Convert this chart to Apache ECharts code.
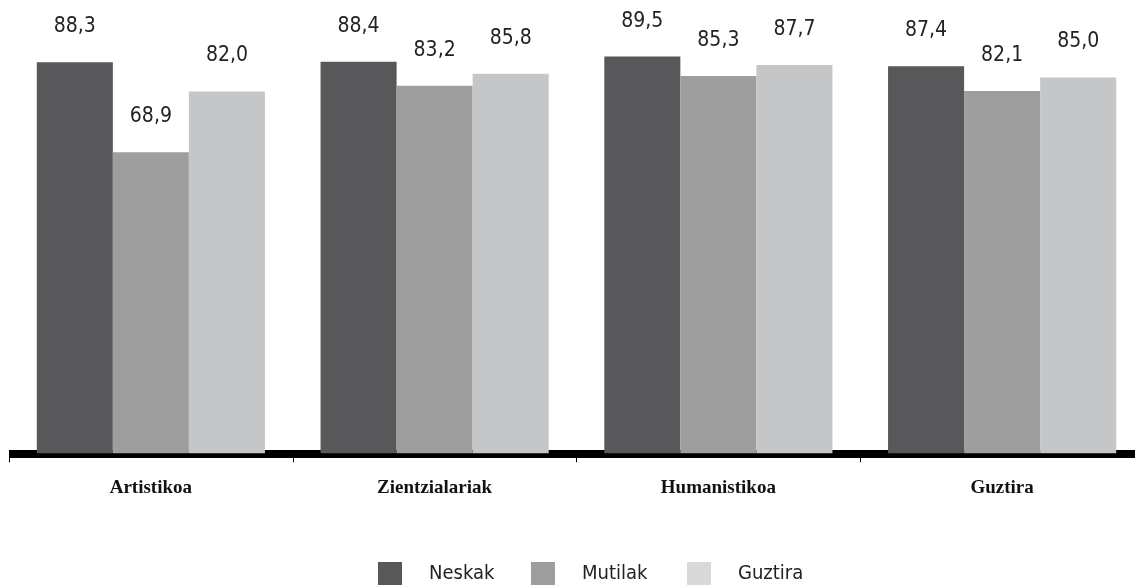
<!DOCTYPE html>
<html>
<head>
<meta charset="utf-8">
<script src="https://cdn.jsdelivr.net/npm/echarts@6/dist/echarts.min.js"></script>
<style>
  html, body { margin: 0; padding: 0; background: #fff; }
  #main { width: 1135px; height: 585px; }
</style>
</head>
<body>
<div id="main"></div>
<script>
var categories = ['Artistikoa', 'Zientzialariak', 'Humanistikoa', 'Guztira']
var neskak = [88.3, 88.4, 89.5, 87.4]
var mutilak = [68.9, 83.2, 85.3, 82.1]
var guztira = [82.0, 85.8, 87.7, 85.0]

var narrow = "'Liberation Sans Narrow', 'DejaVu Sans Condensed', sans-serif"

var myChart = echarts.init(document.getElementById('main'))

function labelOf() {
    return {
        show: true,
        position: 'top',
        distance: 25,
        fontFamily: narrow,
        fontSize: 21,
        color: '#222',
        formatter: function (p) { return p.value.toFixed(1).replace('.', ',') }
    }
}

function legendAt(name, left, color) {
    return {
        data: [{ name: name, itemStyle: { color: color } }],
        left: left,
        top: 562,
        padding: 0,
        itemWidth: 24,
        itemHeight: 24,
        icon: 'rect',
        selectedMode: false,
        textStyle: {
            fontFamily: narrow,
            fontSize: 20,
            color: '#222',
            padding: [0, 0, 0, 22]
        }
    }
}

myChart.setOption({
    animation: false,
    legend: [
        legendAt('Neskak', 378, '#58585a'),
        legendAt('Mutilak', 531, '#9e9e9f'),
        legendAt('Guztira', 687, '#d8d9da')
    ],
    grid: { left: 9, width: 1135, top: 54.3, bottom: 131.7, outerBoundsMode: 'none' },
    xAxis: {
        type: 'category',
        data: categories,
        axisLine: { lineStyle: { color: '#000', width: 8, cap: 'butt' } },
        axisTick: { show: true, length: 9, lineStyle: { color: '#000', width: 1 } },
        axisLabel: {
            margin: 25,
            fontFamily: "'Liberation Serif', serif",
            fontWeight: 'bold',
            fontSize: 19,
            color: '#111'
        }
    },
    yAxis: {
        type: 'value',
        min: 4,
        max: 90,
        show: false,
        splitLine: { show: false }
    },
    series: [
        {
            name: 'Neskak', type: 'bar', data: neskak,
            barGap: '0%', barCategoryGap: '19.6%',
            itemStyle: { color: '#58585a' },
            label: labelOf()
        },
        {
            name: 'Mutilak', type: 'bar', data: mutilak,
            itemStyle: { color: '#9e9e9f' },
            label: labelOf()
        },
        {
            name: 'Guztira', type: 'bar', data: guztira,
            itemStyle: { color: '#c5c6c8' },
            label: labelOf()
        }
    ]
})
</script>
</body>
</html>
